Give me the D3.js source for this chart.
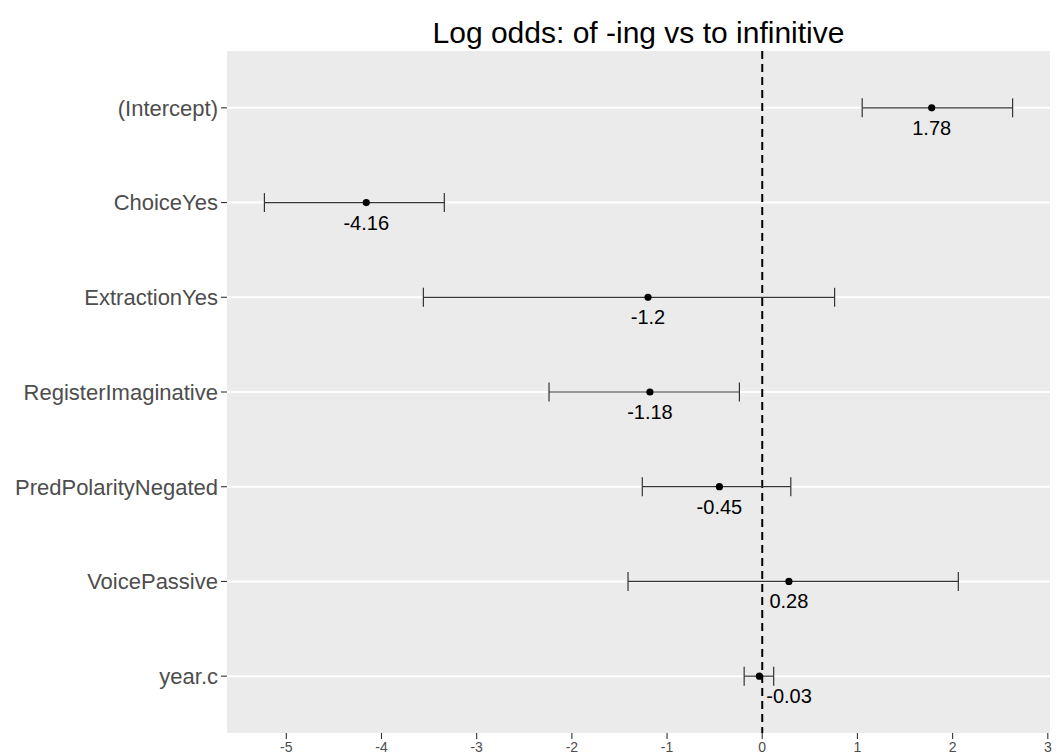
<!DOCTYPE html>
<html>
<head>
<meta charset="utf-8">
<script src="https://cdn.jsdelivr.net/npm/d3@7"></script>
<style>
  html, body { margin: 0; padding: 0; background: #fff; }
  svg { display: block; font-family: "Liberation Sans", Arial, sans-serif; }
</style>
</head>
<body>
<svg id="chart" width="1058" height="756"></svg>
<script>
const terms = ['(Intercept)', 'ChoiceYes', 'ExtractionYes', 'RegisterImaginative',
  'PredPolarityNegated', 'VoicePassive', 'year.c'];
const estimates = [1.78, -4.16, -1.2, -1.18, -0.45, 0.28, -0.03];
const lower = [1.05, -5.23, -3.56, -2.24, -1.26, -1.41, -0.19];
const upper = [2.63, -3.34, 0.76, -0.24, 0.30, 2.06, 0.12];
const xTicks = [-5, -4, -3, -2, -1, 0, 1, 2, 3];

const W = 1058, H = 756;
const panel = { left: 227, right: 1050, top: 51, bottom: 733 };

const svg = d3.select('#chart');

// continuous x with ggplot's 5% expansion
const lo = d3.min(lower), hi = d3.max(upper);
const pad = (hi - lo) * 0.05;
const x = d3.scaleLinear().domain([lo - pad, hi + pad]).range([panel.left, panel.right]);
const y = d3.scalePoint().domain(terms).range([panel.top, panel.bottom]).padding(0.6);

svg.append('rect')
  .attr('x', panel.left).attr('y', panel.top)
  .attr('width', panel.right - panel.left).attr('height', panel.bottom - panel.top)
  .attr('fill', '#ebebeb');

// horizontal grid only
svg.append('g').selectAll('line').data(terms).join('line')
  .attr('x1', panel.left).attr('x2', panel.right)
  .attr('y1', d => y(d)).attr('y2', d => y(d))
  .attr('stroke', '#fff').attr('stroke-width', 2);

// zero reference
svg.append('line')
  .attr('x1', x(0)).attr('x2', x(0))
  .attr('y1', panel.top).attr('y2', panel.bottom)
  .attr('stroke', '#000').attr('stroke-width', 2)
  .attr('stroke-dasharray', '8,5');

const rows = terms.map((t, i) => ({ term: t, est: estimates[i], lo: lower[i], hi: upper[i] }));
const whisk = y.step() * 0.1;

const bars = svg.append('g').selectAll('g').data(rows).join('g');
bars.append('line')
  .attr('x1', d => x(d.lo)).attr('x2', d => x(d.hi))
  .attr('y1', d => y(d.term)).attr('y2', d => y(d.term))
  .attr('stroke', '#333').attr('stroke-width', 1.2);
bars.append('line')
  .attr('x1', d => x(d.lo)).attr('x2', d => x(d.lo))
  .attr('y1', d => y(d.term) - whisk).attr('y2', d => y(d.term) + whisk)
  .attr('stroke', '#333').attr('stroke-width', 1.2);
bars.append('line')
  .attr('x1', d => x(d.hi)).attr('x2', d => x(d.hi))
  .attr('y1', d => y(d.term) - whisk).attr('y2', d => y(d.term) + whisk)
  .attr('stroke', '#333').attr('stroke-width', 1.2);
bars.append('circle')
  .attr('cx', d => x(d.est)).attr('cy', d => y(d.term))
  .attr('r', 3.6).attr('fill', '#000');

// value labels under points, nudged off the zero line like ggrepel does
const LABEL_FS = 20;
bars.append('text')
  .attr('x', d => x(d.est)).attr('y', d => y(d.term) + 27)
  .attr('text-anchor', 'middle')
  .attr('font-size', LABEL_FS).attr('fill', '#000')
  .text(d => String(d.est))
  .each(function(d) {
    const w = this.getComputedTextLength();
    const cx = x(d.est);
    if (cx - w / 2 < x(0) + 2 && cx + w / 2 > x(0) - 2) {
      d3.select(this).attr('text-anchor', 'start').attr('x', x(0) + 4);
    }
  });

// y axis
const yAxis = svg.append('g');
yAxis.selectAll('line').data(terms).join('line')
  .attr('x1', panel.left - 6).attr('x2', panel.left)
  .attr('y1', d => y(d)).attr('y2', d => y(d))
  .attr('stroke', '#333').attr('stroke-width', 1.1);
yAxis.selectAll('text').data(terms).join('text')
  .attr('x', panel.left - 9).attr('y', d => y(d))
  .attr('dy', '0.36em')
  .attr('text-anchor', 'end')
  .attr('font-size', 22).attr('fill', '#4d4d4d')
  .text(d => d);

// x axis
const xAxis = svg.append('g');
xAxis.selectAll('line').data(xTicks).join('line')
  .attr('x1', d => x(d)).attr('x2', d => x(d))
  .attr('y1', panel.bottom).attr('y2', panel.bottom + 6)
  .attr('stroke', '#333').attr('stroke-width', 1.1);
xAxis.selectAll('text').data(xTicks).join('text')
  .attr('x', d => x(d)).attr('y', 752)
  .attr('text-anchor', 'middle')
  .attr('font-size', 14).attr('fill', '#4d4d4d')
  .text(d => d);

svg.append('text')
  .attr('x', (panel.left + panel.right) / 2).attr('y', 43)
  .attr('text-anchor', 'middle')
  .attr('font-size', 30).attr('fill', '#000')
  .text('Log odds: of -ing vs to infinitive');
</script>
</body>
</html>
